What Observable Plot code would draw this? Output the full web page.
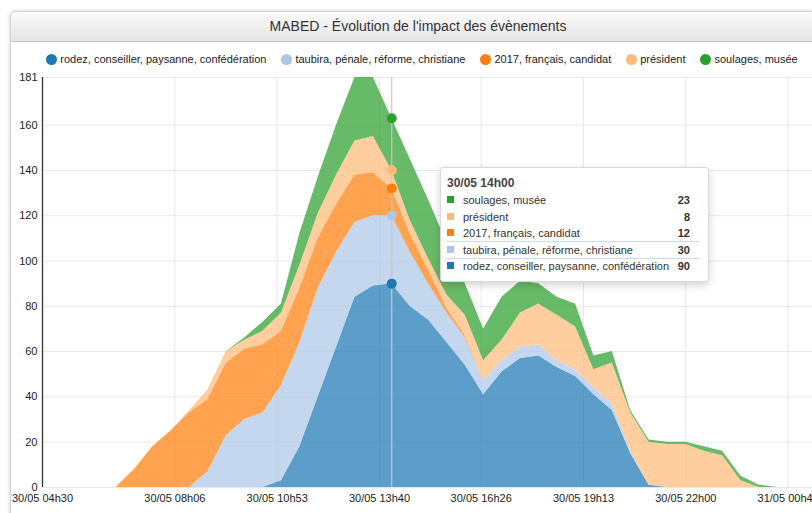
<!DOCTYPE html>
<html><head><meta charset="utf-8">
<script src="https://cdn.jsdelivr.net/npm/d3@7"></script>
<script src="https://cdn.jsdelivr.net/npm/@observablehq/plot@0.6"></script>
<style>
html,body{margin:0;padding:0;}
body{width:812px;height:513px;overflow:hidden;background:#fff;position:relative;font-family:"Liberation Sans",Arial,sans-serif;color:#333;}
#panel{position:absolute;left:10px;top:11px;width:830px;height:530px;border:1px solid #d2d2d2;border-radius:5px;box-shadow:0 0 4px rgba(0,0,0,.18);background:#fff;}
#header{position:absolute;left:0;top:0;right:0;height:29px;background:linear-gradient(#fbfbfb,#e4e4e4);border-bottom:1px solid #c6c6c6;border-radius:5px 5px 0 0;}
#title{position:absolute;left:10px;top:12px;width:816px;height:29px;line-height:29px;text-align:center;font-size:14px;color:#333;}
#legend{position:absolute;left:24px;top:51px;width:796px;height:16px;display:flex;justify-content:center;align-items:center;font-size:11px;color:#222;}
.li{display:flex;align-items:center;margin-right:15px;white-space:nowrap;}
.li:last-child{margin-right:0;}
.sw{width:11px;height:11px;border-radius:50%;margin-right:3px;}
#chart{position:absolute;left:20px;top:70px;width:794px;height:443px;}
#tip{position:absolute;left:440px;top:167px;width:267px;height:113px;background:rgba(255,255,255,.97);border:1px solid rgba(0,0,0,.15);border-radius:4px;box-shadow:0 3px 8px rgba(0,0,0,.18);font-size:11px;color:#333;}
#tip .hd{position:absolute;left:6px;top:8px;font-weight:bold;font-size:12px;color:#444;}
#tip .row{position:absolute;left:6px;width:252px;height:16px;line-height:16px;}
#tip .row.hl{border-top:1px solid #c9d9ee;border-bottom:1px solid #c9d9ee;}
#tip .sq{position:absolute;left:0;top:4px;width:7px;height:7px;}
#tip .lb{position:absolute;left:16px;top:0;}
#tip .vl{position:absolute;right:9px;top:0;font-weight:bold;}
</style>
</head><body>
<div id="panel"><div id="header"></div></div>
<div id="title"></div>
<div id="legend"></div>
<div id="chart"></div>
<div id="tip"></div>
<script>
const titleText = "MABED - Évolution de l'impact des évènements";
const series = ["rodez, conseiller, paysanne, confédération","taubira, pénale, réforme, christiane","2017, français, candidat","président","soulages, musée"];
const colors = ["#1f77b4","#aec7e8","#ff7f0e","#ffbb78","#2ca02c"];
const times = ["2017-05-30T04:30","2017-05-30T05:00","2017-05-30T05:30","2017-05-30T06:00","2017-05-30T06:30","2017-05-30T07:00","2017-05-30T07:30","2017-05-30T08:00","2017-05-30T08:30","2017-05-30T09:00","2017-05-30T09:30","2017-05-30T10:00","2017-05-30T10:30","2017-05-30T11:00","2017-05-30T11:30","2017-05-30T12:00","2017-05-30T12:30","2017-05-30T13:00","2017-05-30T13:30","2017-05-30T14:00","2017-05-30T14:30","2017-05-30T15:00","2017-05-30T15:30","2017-05-30T16:00","2017-05-30T16:30","2017-05-30T17:00","2017-05-30T17:30","2017-05-30T18:00","2017-05-30T18:30","2017-05-30T19:00","2017-05-30T19:30","2017-05-30T20:00","2017-05-30T20:30","2017-05-30T21:00","2017-05-30T21:30","2017-05-30T22:00","2017-05-30T22:30","2017-05-30T23:00","2017-05-30T23:30","2017-05-31T00:00","2017-05-31T00:30","2017-05-31T01:00","2017-05-31T01:30"];
const rodez    = [0,0,0,0,0,0,0,0,0,0,0,0,0,3,18,40,62,84,89,90,80,74,64,54,41,51,57,58,53,49,41,34,15,1,0,0,0,0,0,0,0,0,0];
const taubira  = [0,0,0,0,0,0,0,0,0,7,23,30,33,42,46,48,42,33,31,30,24,16,13,12,6,5,5,5,3,3,3,3,1,0,0,0,0,0,0,0,0,0,0];
const candidat = [0,0,0,0,0,8,18,25,33,32,32,31,30,24,24,22,21,21,19,12,8,6,2,1,0,0,0,0,0,0,0,0,0,0,0,0,0,0,0,0,0,0,0];
const president= [0,0,0,0,0,0,0,0,1,4,5,4,6,8,10,11,13,15,16,8,6,5,6,9,9,9,15,18,20,19,8,18,17,19,19,19,16,14,3,0,0,0,0];
const soulages = [0,0,0,0,0,0,0,0,0,0,0,1,4,4,14,16,22,28,26,23,27,26,23,14,14,19,14,9,8,10,6,5,1,1,1,1,2,2,2,1,0,0,0];
const xDomain = ["2017-05-30T04:30","2017-05-31T01:30"];
const xTicks = ["2017-05-30T04:30","2017-05-30T08:06","2017-05-30T10:53","2017-05-30T13:40","2017-05-30T16:26","2017-05-30T19:13","2017-05-30T22:00","2017-05-31T00:47"];
const yTicks = [0,20,40,60,80,100,120,140,160,181];
const tipTime = "2017-05-30T14:00";
const tipLabel = "30/05 14h00";

const P = s => new Date(s + ":00Z");
const valuesBySeries = [rodez, taubira, candidat, president, soulages];
const data = [];
series.forEach((s, i) => times.forEach((t, k) => data.push({time: P(t), series: s, value: valuesBySeries[i][k]})));
const tipDate = P(tipTime);
const tipData = data.filter(d => +d.time === +tipDate);

document.getElementById("title").textContent = titleText;
const leg = document.getElementById("legend");
series.forEach((s, i) => {
  const it = document.createElement("div"); it.className = "li";
  const sw = document.createElement("div"); sw.className = "sw"; sw.style.background = colors[i];
  const tx = document.createElement("span"); tx.textContent = s;
  it.appendChild(sw); it.appendChild(tx); leg.appendChild(it);
});

const fmt = d3.utcFormat("%d/%m %Hh%M");
const chart = Plot.plot({
  width: 794, height: 443,
  marginLeft: 22, marginRight: 0, marginTop: 7, marginBottom: 26,
  style: {fontFamily: "'Liberation Sans', Arial, sans-serif", fontSize: "11px", color: "#222", background: "transparent", maxWidth: "none", overflow: "visible"},
  x: {type: "utc", domain: xDomain.map(P), ticks: xTicks.map(P), tickFormat: fmt, tickSize: 0, tickPadding: 7, label: null},
  y: {domain: [0, 181], ticks: yTicks, tickSize: 0, tickPadding: 5, label: null},
  color: {domain: series, range: colors},
  marks: [
    Plot.ruleY(yTicks, {stroke: "#e8e8e8"}),
    Plot.ruleX(xTicks.map(P), {stroke: "#e8e8e8"}),
    Plot.areaY(data, {x: "time", y: "value", z: "series", fill: "series", fillOpacity: 0.72, order: series}),
    Plot.ruleX([tipDate], {stroke: "#c8c8c8", strokeWidth: 1.2}),
    Plot.dot(tipData, Plot.stackY2({x: "time", y: "value", z: "series", fill: "series", r: 5, order: series})),
    Plot.ruleX([P(xDomain[0])], {stroke: "#333", strokeWidth: 1.3})
  ]
});
document.getElementById("chart").appendChild(chart);

const tip = document.getElementById("tip");
const hd = document.createElement("div"); hd.className = "hd"; hd.textContent = tipLabel; tip.appendChild(hd);
const rows = series.map((s, i) => ({s, c: colors[i], v: tipData.find(d => d.series === s).value})).reverse();
rows.forEach((r, j) => {
  const row = document.createElement("div");
  row.className = "row" + (r.s === series[1] ? " hl" : "");
  row.style.top = (24 + j * 16.6 - (r.s === series[1] ? 1 : 0)) + "px";
  row.innerHTML = `<div class="sq" style="background:${r.c}"></div><div class="lb"></div><div class="vl"></div>`;
  row.querySelector(".lb").textContent = r.s;
  row.querySelector(".vl").textContent = r.v;
  tip.appendChild(row);
});
</script>
</body></html>
